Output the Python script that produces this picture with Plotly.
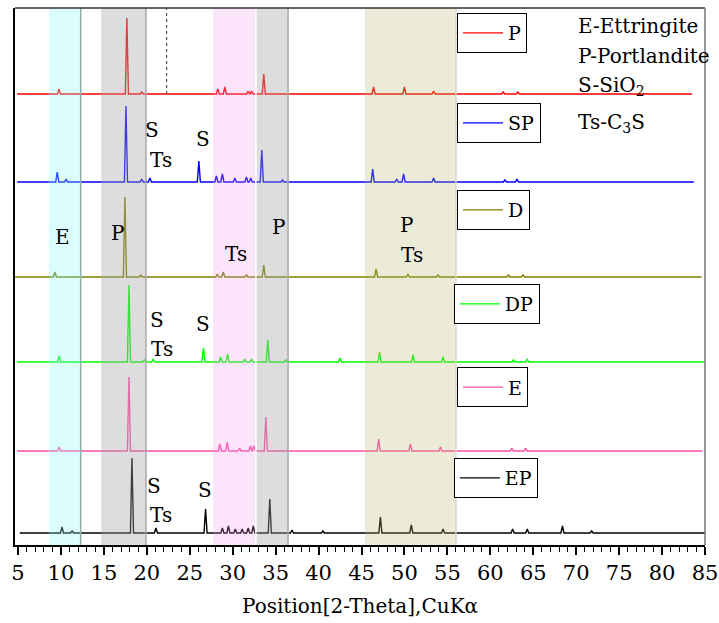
import plotly.graph_objects as go

# ---------------- data ----------------
samples = ["P", "SP", "D", "DP", "E", "EP"]
colors = ["#ff0000", "#0000ff", "#808000", "#00ff00", "#ff4da6", "#000000"]
offsets = [451, 363, 268, 183, 94, 12]          # stacking offset (a.u.)
x_start = [4.9, 4.9, 4.6, 4.9, 4.9, 5.2]
x_end = [83.5, 83.7, 84.6, 85.2, 84.7, 85.2]

P_pos = [9.77, 17.68, 19.4, 28.27, 29.09, 31.8, 32.2, 33.62, 46.4, 50.0, 53.4, 61.5, 63.2]
P_int = [5, 76, 2, 5, 7, 3, 3, 20, 7, 7, 3, 2, 2]

SP_pos = [9.57, 10.6, 17.57, 19.4, 20.36, 26.06, 28.1, 28.8, 30.25, 31.6, 32.1, 33.39, 35.8,
          46.3, 49.1, 49.9, 53.4, 61.7, 63.1]
SP_int = [10, 3, 76, 3, 4, 21, 6, 8, 4, 5, 4, 32, 2, 13, 3, 8, 4, 2, 3]

D_pos = [9.3, 17.45, 19.3, 28.2, 28.9, 31.6, 33.62, 46.7, 50.4, 53.9, 62.1, 63.8]
D_int = [5, 80, 2, 3, 5, 2, 12, 8, 3, 2, 2, 2]

DP_pos = [9.8, 17.92, 19.7, 20.74, 26.6, 28.6, 29.4, 31.4, 32.2, 34.09, 36.2, 42.5,
          47.1, 51.0, 54.5, 62.7, 64.3]
DP_int = [6, 77, 2, 3, 14, 5, 8, 3, 3, 22, 2, 4, 10, 7, 5, 2, 3]

E_pos = [9.8, 17.92, 28.5, 29.36, 30.8, 32.07, 32.46, 33.86, 47.0, 50.7, 54.2, 62.5, 64.1]
E_int = [4, 74, 7, 9, 3, 5, 5, 34, 12, 7, 4, 3, 3]

EP_pos = [10.12, 11.3, 18.27, 21.06, 26.84, 28.8, 29.5, 30.3, 31.1, 31.8, 32.4, 34.32, 36.9,
          40.5, 47.2, 50.8, 54.5, 62.6, 64.3, 68.4, 71.8]
EP_int = [6, 2, 75, 5, 24, 5, 7, 4, 4, 5, 7, 34, 3, 2, 16, 8, 4, 4, 4, 7, 2]

peak_pos = [P_pos, SP_pos, D_pos, DP_pos, E_pos, EP_pos]
peak_int = [P_int, SP_int, D_int, DP_int, E_int, EP_int]

# highlighted 2-theta regions
band_x0 = [8.6, 14.7, 27.7, 32.8, 45.4]
band_x1 = [12.3, 19.9, 32.7, 36.45, 56.0]
band_fill = ["rgba(140,250,250,0.30)", "rgba(165,165,165,0.38)", "rgba(245,150,235,0.25)",
             "rgba(165,165,165,0.38)", "rgba(180,180,110,0.27)"]
band_edge = ["#8fb0b0", "#a8a8a8", "#ffffff", "#a8a8a8", "#d8d8c8"]

phase_labels = ["S", "Ts", "S", "E", "P", "Ts", "P", "P", "Ts",
                "S", "Ts", "S", "S", "Ts", "S"]
phase_x = [20.6, 21.6, 26.6, 10.2, 16.6, 30.4, 35.3, 50.2, 50.9,
           21.2, 21.8, 26.6, 20.8, 21.6, 26.8]
phase_y = [415, 385, 406, 308, 312, 291, 318, 320, 290,
           225, 196, 221, 59, 30, 55]

key_lines = ["E-Ettringite", "P-Portlandite", "S-SiO<sub>2</sub>", "Ts-C<sub>3</sub>S"]

x_ticks = list(range(5, 90, 5))
half_width = 0.18

SERIF = "DejaVu Serif"

fig = go.Figure()

for i, name in enumerate(samples):
    xs = [x_start[i]]
    ys = [offsets[i]]
    for p, h in zip(peak_pos[i], peak_int[i]):
        xs += [p - half_width, p, p + half_width]
        ys += [offsets[i], offsets[i] + h, offsets[i]]
    xs.append(x_end[i])
    ys.append(offsets[i])
    lg = "legend" if i == 0 else f"legend{i + 1}"
    fig.add_trace(go.Scatter(x=xs, y=ys, mode="lines", name=name,
                             line=dict(color=colors[i], width=1.4),
                             legend=lg, showlegend=True))

shapes = []
for x0, x1, fc, ec in zip(band_x0, band_x1, band_fill, band_edge):
    shapes.append(dict(type="rect", xref="x", yref="paper", x0=x0, x1=x1, y0=0, y1=1,
                       fillcolor=fc, line=dict(width=0), layer="above"))
    shapes.append(dict(type="line", xref="x", yref="paper", x0=x1, x1=x1, y0=0, y1=1,
                       line=dict(color=ec, width=1.5), layer="above"))
shapes.append(dict(type="line", xref="x", yref="y", x0=22.3, x1=22.3, y0=offsets[0], y1=537,
                   line=dict(color="#555555", width=1.2, dash="dot"), layer="above"))
shapes.append(dict(type="line", xref="paper", yref="paper", x0=0, x1=1, y0=1, y1=1,
                   line=dict(color="#333333", width=1.5)))
shapes.append(dict(type="line", xref="paper", yref="paper", x0=1, x1=1, y0=0, y1=1,
                   line=dict(color="#777777", width=1.5)))

annotations = []
for t, x, y in zip(phase_labels, phase_x, phase_y):
    annotations.append(dict(x=x, y=y, xref="x", yref="y", text=t, showarrow=False,
                            font=dict(family=SERIF, size=20, color="black"),
                            xanchor="center", yanchor="middle"))
key_y = [0.966, 0.910, 0.855, 0.785]
for t, yy in zip(key_lines, key_y):
    annotations.append(dict(x=0.813, y=yy, xref="paper", yref="paper", text=t,
                            showarrow=False, xanchor="left", yanchor="middle",
                            font=dict(family=SERIF, size=20, color="black")))
annotations.append(dict(x=0.5, y=-0.114, xref="paper", yref="paper",
                        text="Position[2-Theta],CuKα", showarrow=False,
                        xanchor="center", yanchor="middle",
                        font=dict(family=SERIF, size=20, color="black")))

legend_xy = [(0.6406, 0.9907), (0.6406, 0.823), (0.6406, 0.661),
             (0.636, 0.486), (0.6406, 0.331), (0.636, 0.162)]
legend_cfg = {}
for i, (lx, ly) in enumerate(legend_xy):
    key = "legend" if i == 0 else f"legend{i + 1}"
    legend_cfg[key] = dict(x=lx, y=ly, xanchor="left", yanchor="top",
                           bgcolor="white", bordercolor="black", borderwidth=1,
                           font=dict(family=SERIF, size=19, color="black"),
                           itemwidth=40, tracegroupgap=0)

fig.update_layout(
    width=719, height=623,
    margin=dict(l=15, r=14, t=8, b=78),
    paper_bgcolor="white", plot_bgcolor="white",
    shapes=shapes, annotations=annotations,
    xaxis=dict(range=[4.65, 85.0], tickvals=x_ticks, ticktext=[str(v) for v in x_ticks],
               automargin=False,
               ticks="outside", ticklen=8, tickwidth=1.5, tickcolor="black",
               showline=True, linecolor="black", linewidth=1.5, mirror=False,
               showgrid=False, zeroline=False,
               tickfont=dict(family=SERIF, size=21, color="black"),
               minor=dict(dtick=1, tick0=5, ticks="outside", ticklen=5, tickwidth=1.2,
                          tickcolor="black", showgrid=False)),
    yaxis=dict(range=[0, 537], showticklabels=False, ticks="", showgrid=False,
               automargin=False,
               zeroline=False, showline=True, linecolor="black", linewidth=1.5),
    **legend_cfg,
)

fig.write_html("out.html")
